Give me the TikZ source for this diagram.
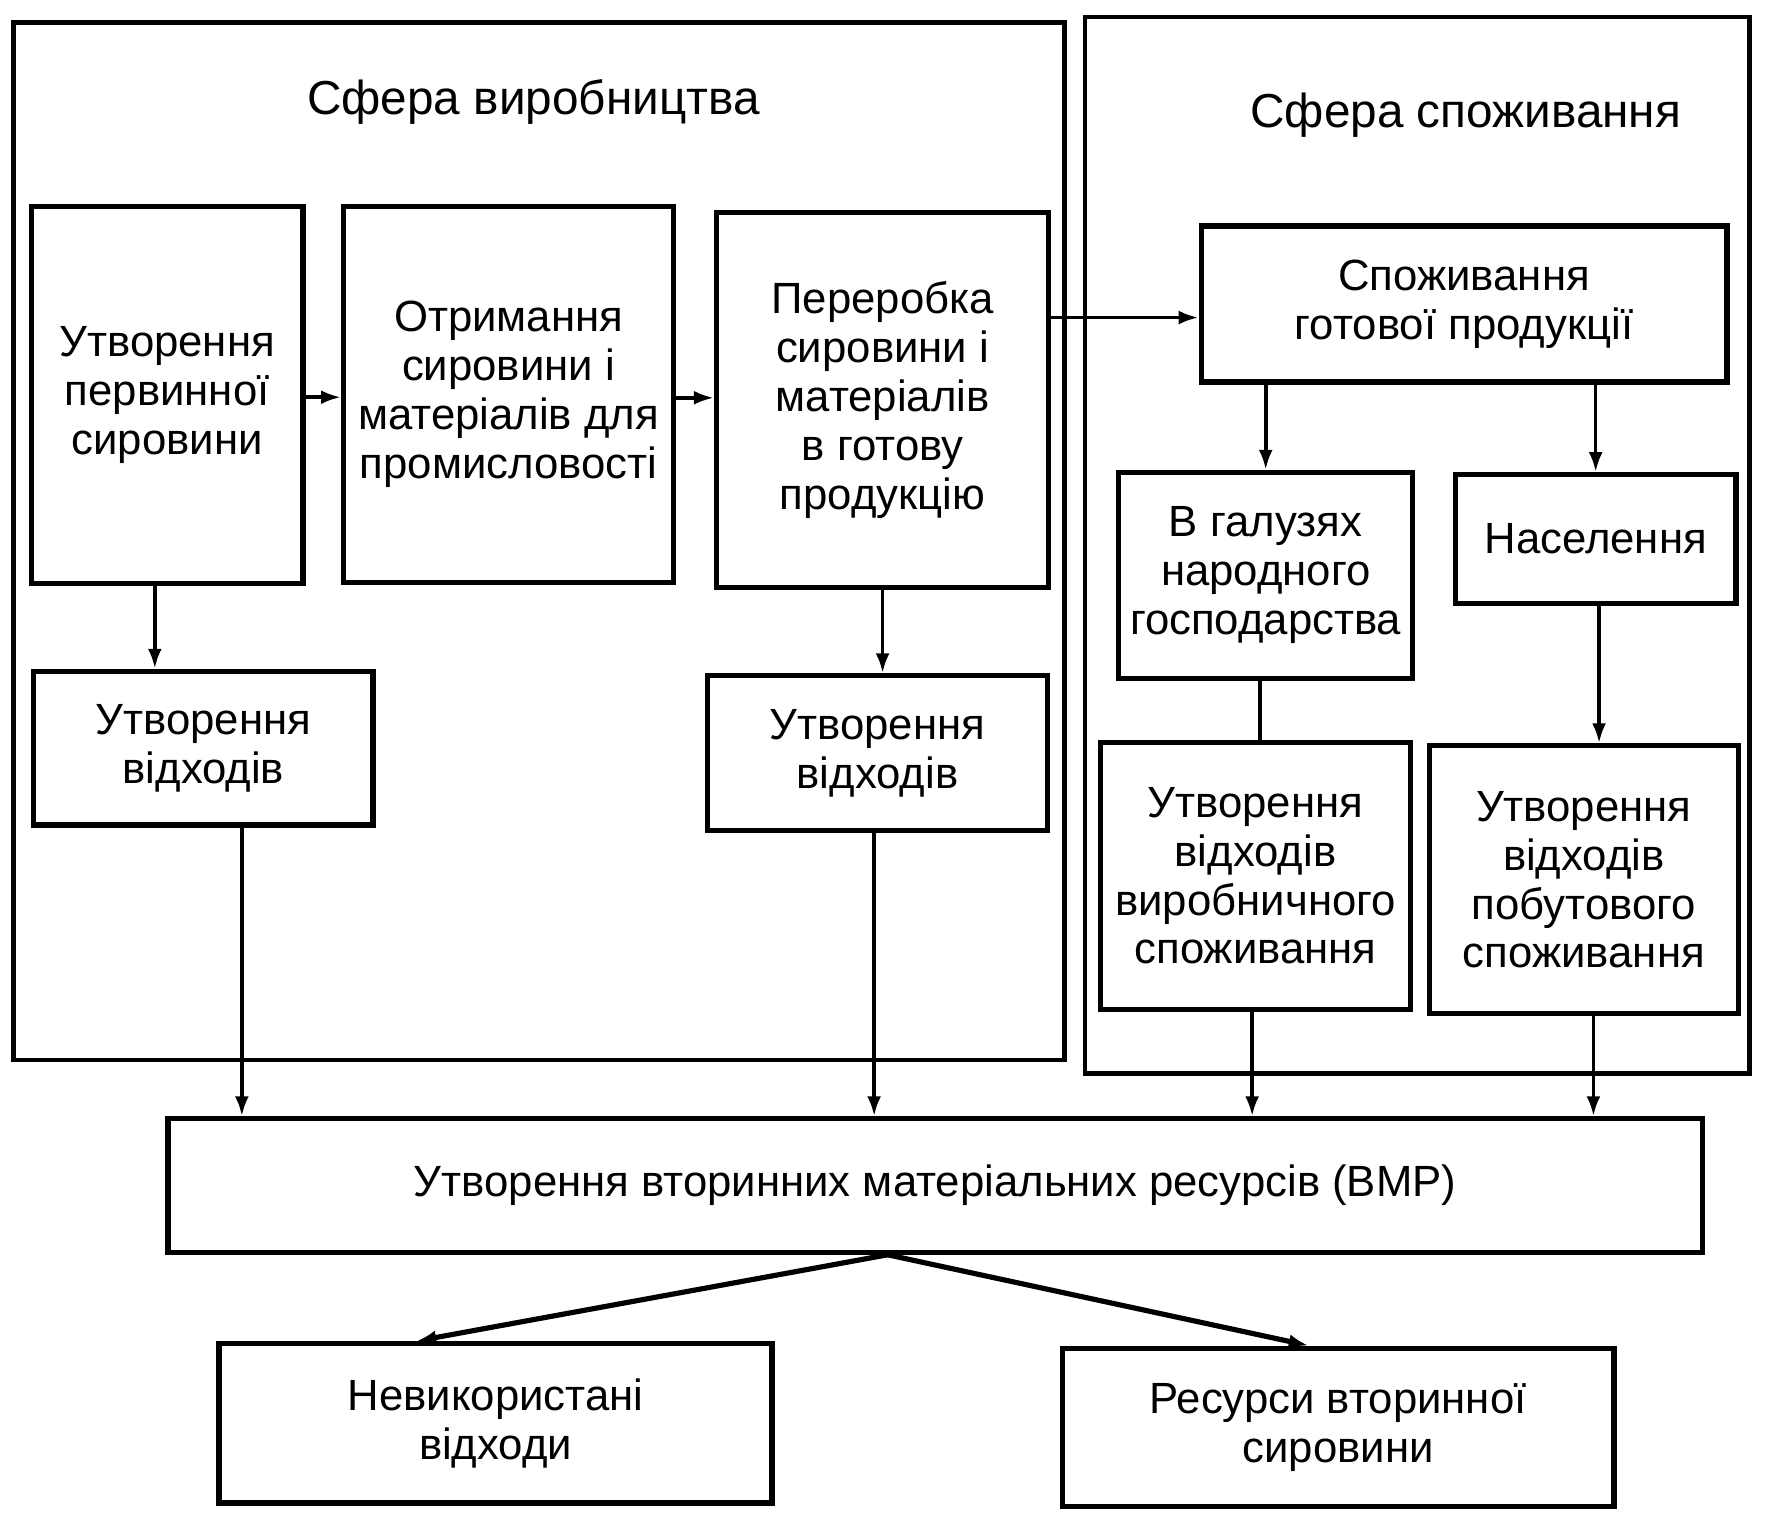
\documentclass[tikz,border=0pt]{standalone}
\usepackage{fontspec}
\setmainfont{Liberation Sans}
\usepackage{tikz}
\usetikzlibrary{arrows.meta, positioning, calc}

\begin{document}
\begin{tikzpicture}[x=0.01cm, y=-0.01cm,
    blok/.style={draw, line width=1.3pt, align=center, inner sep=2pt, font=\fontsize{11}{12.3}\selectfont},
    strilka/.style={line width=0.9pt, -{Latex[length=5pt, width=3.5pt]}},
    liniya/.style={line width=0.9pt},
    ramka/.style={line width=1.2pt}]
  \useasboundingbox (0,0) rectangle (1568,1350.3);

  % Frames of the two spheres
  \draw[ramka] (12,20) rectangle (942,938);
  \draw[ramka] (960,15) rectangle (1548,950);
  \node[font=\fontsize{12}{14}\selectfont] (virob) at (472,90) {Сфера виробництва};
  \node[font=\fontsize{12}{14}\selectfont] (spozh) at (1297,102) {Сфера споживання};

  % Production sphere
  \node[blok, minimum width=2.40cm, minimum height=3.33cm] (pervinna) at (148,349.5) {Утворення\\первинної\\сировини};
  \node[blok, minimum width=2.92cm, minimum height=3.32cm] (otrym) at (450,349) {Отримання\\сировини і\\матеріалів для\\промисловості};
  \node[blok, minimum width=2.94cm, minimum height=3.32cm] (pererob) at (781,354) {Переробка\\сировини і\\матеріалів\\в готову\\продукцію};
  \node[blok, minimum width=3.00cm, minimum height=1.36cm] (vidh1) at (180,662) {Утворення\\відходів};
  \node[blok, minimum width=3.01cm, minimum height=1.37cm] (vidh2) at (776.5,666.5) {Утворення\\відходів};

  % Consumption sphere
  \node[blok, minimum width=4.65cm, minimum height=1.38cm] (gotova) at (1295.5,269) {Споживання\\готової продукції};
  \node[blok, minimum width=2.60cm, minimum height=1.82cm] (galuzi) at (1120,509) {В галузях\\народного\\господарства};
  \node[blok, minimum width=2.48cm, minimum height=1.14cm] (naselen) at (1412,477) {Населення};
  \node[blok, minimum width=2.74cm, minimum height=2.36cm] (vidh3) at (1111,775) {Утворення\\відходів\\виробничного\\споживання};
  \node[blok, minimum width=2.73cm, minimum height=2.37cm] (vidh4) at (1401.5,778.5) {Утворення\\відходів\\побутового\\споживання};

  % Secondary resources
  \node[blok, minimum width=13.57cm, minimum height=1.18cm] (vmr) at (827.5,1049) {Утворення вторинних матеріальних ресурсів (ВМР)};
  \node[blok, minimum width=4.89cm, minimum height=1.41cm] (nevyk) at (438.5,1259.5) {Невикористані\\відходи};
  \node[blok, minimum width=4.88cm, minimum height=1.40cm] (resursy) at (1184,1263) {Ресурси вторинної\\сировини};

  % Connectors
  \draw[strilka] ([yshift=-0.02cm]pervinna.east) -- ([yshift=-0.02cm]pervinna.east -| otrym.west);
  \draw[strilka] ([yshift=-0.03cm]otrym.east) -- ([yshift=-0.03cm]otrym.east -| pererob.west);
  \draw[strilka] ([yshift=-0.12cm]gotova.west -| pererob.east) -- ([yshift=-0.12cm]gotova.west);
  \draw[strilka] ([xshift=-0.11cm]pervinna.south) -- ([xshift=-0.11cm]pervinna.south |- vidh1.north);
  \draw[strilka] (pererob.south) -- (pererob.south |- vidh2.north);
  \draw[strilka] (galuzi.north |- gotova.south) -- (galuzi.north);
  \draw[strilka] (naselen.north |- gotova.south) -- (naselen.north);
  \draw[liniya] ([xshift=0.04cm]vidh3.north |- galuzi.south) -- ([xshift=0.04cm]vidh3.north);
  \draw[strilka] ([xshift=0.03cm]naselen.south) -- ([xshift=0.03cm]naselen.south |- vidh4.north);
  \draw[strilka] ([xshift=0.34cm]vidh1.south) -- ([xshift=0.34cm]vidh1.south |- vmr.north);
  \draw[strilka] ([xshift=-0.03cm]vidh2.south) -- ([xshift=-0.03cm]vidh2.south |- vmr.north);
  \draw[strilka] ([xshift=-0.03cm]vidh3.south) -- ([xshift=-0.03cm]vidh3.south |- vmr.north);
  \draw[strilka] ([xshift=0.085cm]vidh4.south) -- ([xshift=0.085cm]vidh4.south |- vmr.north);
  \coordinate (rozp) at ([xshift=-0.42cm]vmr.south);
  \draw[strilka, line width=1.3pt] (rozp) -- ([xshift=-0.70cm]nevyk.north);
  \draw[strilka, line width=1.3pt] (rozp) -- ([xshift=-0.26cm]resursy.north);
\end{tikzpicture}
\end{document}
